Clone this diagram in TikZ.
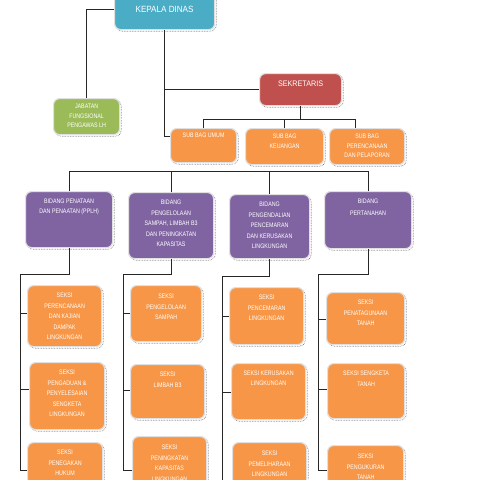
\documentclass[tikz,border=0pt]{standalone}
\usepackage{fontspec}
\setmainfont{Liberation Sans}
\newfontfamily\bxf[FakeStretch=0.82]{Liberation Sans}
\newfontfamily\hdf[FakeStretch=0.9]{Liberation Sans}
\usetikzlibrary{shadows}
\definecolor{kd}{HTML}{4BACC6}
\definecolor{sk}{HTML}{C0504D}
\definecolor{gr}{HTML}{9BBB59}
\definecolor{or}{HTML}{F79646}
\definecolor{pu}{HTML}{8064A2}
\tikzset{
  box/.style={rounded corners=6pt, draw=black!12, line width=1.2pt, inner sep=0pt, text=white,
    general shadow={shadow xshift=1.6pt, shadow yshift=-1.6pt, draw=black!60, densely dotted, line width=0.6pt}},
  conn/.style={draw=black!85, line width=0.8pt}
}
% name, style, x, y, w, h, first-line offset, text
\newcommand\ob[8]{\node[box,#2,anchor=north west] (#1) at (#3,#4)
  {\parbox[t][#6pt][t]{#5pt}{\centering\bxf\fontsize{6.5}{10.5}\selectfont\rule{0pt}{\dimexpr#7pt+2.3pt\relax}#8}};}
\begin{document}
\begin{tikzpicture}[x=1pt,y=-1pt]
\useasboundingbox (0,0) rectangle (480,480);
\clip (0,0) rectangle (480,480);
% top level
\node[box, fill=kd, anchor=north west, minimum width=100pt, minimum height=41pt] (kep) at (114,-12)
  {\hdf\fontsize{9}{10}\selectfont KEPALA DINAS};
\node[box, fill=sk, anchor=north west] (sek) at (259,73)
  {\parbox[t][32pt][t]{82pt}{\centering\hdf\fontsize{8}{10}\selectfont\rule{0pt}{13pt}SEKRETARIS}};
\ob{jab}{fill=gr}{53}{98}{66}{36}{8}{\fontsize{6.5}{9.2}\selectfont JABATAN\\FUNGSIONAL\\PENGAWAS LH}
\ob{umum}{fill=or}{170}{128}{66}{34}{7}{SUB BAG UMUM}
\ob{keu}{fill=or}{245}{128}{78}{36}{8}{\fontsize{6.5}{9.5}\selectfont SUB BAG\\KEUANGAN}
\ob{per}{fill=or}{329}{128}{75}{36}{8}{\fontsize{6.5}{9.5}\selectfont SUB BAG\\PERENCANAAN\\DAN PELAPORAN}
% bidang
\ob{b1}{fill=pu}{25}{191}{87}{56}{10}{\fontsize{6.5}{9.5}\selectfont BIDANG PENATAAN\\DAN PENAATAN (PPLH)}
\ob{b2}{fill=pu}{128}{192}{85}{66}{10}{BIDANG\\PENGELOLAAN\\SAMPAH, LIMBAH B3\\DAN PENINGKATAN\\KAPASITAS}
\ob{b3}{fill=pu}{229}{194}{80}{64}{10}{BIDANG\\PENGENDALIAN\\PENCEMARAN\\DAN KERUSAKAN\\LINGKUNGAN}
\ob{b4}{fill=pu}{324}{191}{87}{57}{10}{\fontsize{6.5}{12}\selectfont BIDANG\\PERTANAHAN}
% seksi
\ob{s11}{fill=or}{27}{285}{74}{61}{10}{SEKSI\\PERENCANAAN\\DAN KAJIAN\\DAMPAK\\LINGKUNGAN}
\ob{s12}{fill=or}{29}{362}{75}{67}{10}{SEKSI\\PENGADUAN \&\\PENYELESAIAN\\SENGKETA\\LINGKUNGAN}
\ob{s13}{fill=or}{27}{442}{75}{60}{10}{SEKSI\\PENEGAKAN\\HUKUM}
\ob{s21}{fill=or}{130}{285}{71}{56}{11}{SEKSI\\PENGELOLAAN\\SAMPAH}
\ob{s22}{fill=or}{130}{364}{74}{54}{10}{SEKSI\\LIMBAH B3}
\ob{s23}{fill=or}{132}{436}{74}{60}{11}{SEKSI\\PENINGKATAN\\KAPASITAS\\LINGKUNGAN}
\ob{s31}{fill=or}{229}{287}{74}{57}{10}{SEKSI\\PENCEMARAN\\LINGKUNGAN}
\ob{s32}{fill=or}{231}{363}{74}{56}{10}{\fontsize{6.5}{9.5}\selectfont SEKSI KERUSAKAN\\LINGKUNGAN}
\ob{s33}{fill=or}{232}{442}{74}{60}{11}{SEKSI\\PEMELIHARAAN\\LINGKUNGAN}
\ob{s41}{fill=or}{326}{292}{78}{52}{10}{SEKSI\\PENATAGUNAAN\\TANAH}
\ob{s42}{fill=or}{327}{363}{77}{55}{10}{SEKSI SENGKETA\\TANAH}
\ob{s43}{fill=or}{327}{445}{76}{60}{11}{SEKSI\\PENGUKURAN\\TANAH}
% connectors top
\draw[conn] (kep.west) -| (jab.north);
\draw[conn] (kep.south) -- (kep.south |- 0,136) -- (umum.west |- 0,136);
\draw[conn] (kep.south |- sek.west) -- (sek.west);
\coordinate (sb) at (sek.south |- 0,119);
\draw[conn] (sek.south) -- (sb) -| (umum.north);
\draw[conn] (sb) -| (keu.north);
\draw[conn] (sb) -| ([xshift=-12pt]per.north);
% bidang bus
\draw[conn] (b1.north) |- (b4.north |- 0,171) -- (b4.north);
\draw[conn] (b2.north) -- (b2.north |- 0,171);
\draw[conn] (b3.north) -- (b3.north |- 0,171);
% column 1
\coordinate (p1) at (20,274);
\draw[conn] (b1.south) |- (p1) -- (p1 |- 0,470) -- (s13.west |- 0,470);
\draw[conn] (p1 |- 0,313) -- (s11.west |- 0,313);
\draw[conn] (p1 |- 0,389) -- (s12.west |- 0,389);
% column 2
\coordinate (p2) at (123,274);
\draw[conn] (b2.south) |- (p2) -- (p2 |- 0,470) -- (s23.west |- 0,470);
\draw[conn] (p2 |- 0,313) -- (s21.west |- 0,313);
\draw[conn] (p2 |- 0,390) -- (s22.west |- 0,390);
% column 3
\coordinate (p3) at (222,276);
\draw[conn] (b3.south) |- (p3) -- (p3 |- 0,482);
\draw[conn] (p3 |- 0,316) -- (s31.west |- 0,316);
\draw[conn] (p3 |- 0,392) -- (s32.west |- 0,392);
% column 4
\coordinate (p4) at (318,274);
\draw[conn] (b4.south) |- (p4) -- (p4 |- 0,470) -- (s43.west |- 0,470);
\draw[conn] (p4 |- 0,319) -- (s41.west |- 0,319);
\draw[conn] (p4 |- 0,389) -- (s42.west |- 0,389);
\end{tikzpicture}
\end{document}
